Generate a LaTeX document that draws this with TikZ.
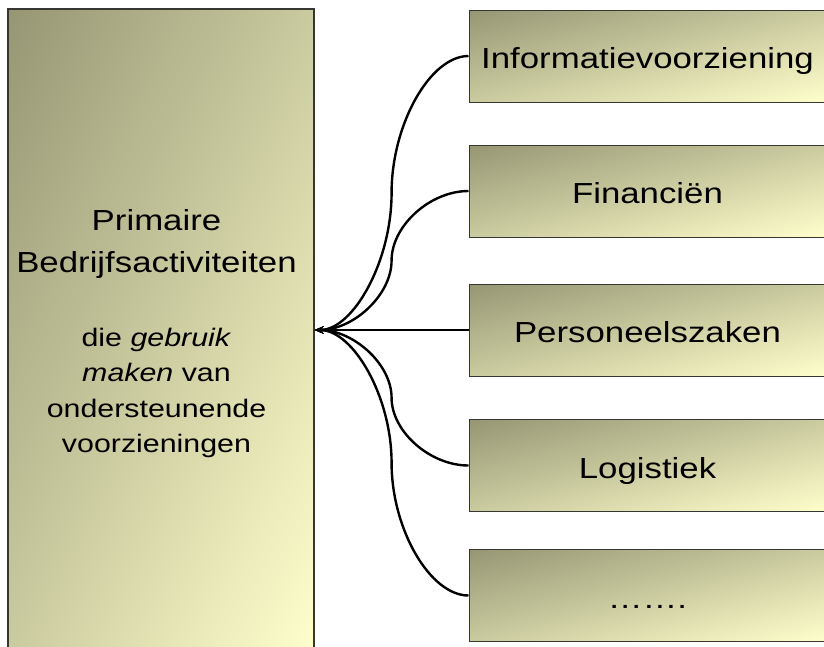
\documentclass[tikz,border=0pt]{standalone}
\usepackage{fontspec}
\setmainfont[FakeStretch=1.2]{Liberation Sans}
\usetikzlibrary{calc,arrows.meta}

\definecolor{edgegray}{RGB}{55,55,50}

% diagonal olive-to-cream gradient, corner to corner over the filled box
% (the central 50bp square is stretched onto the box)
\pgfdeclarefunctionalshading{olivecream}{\pgfpointorigin}{\pgfpoint{100bp}{100bp}}{}{
  exch 25 sub exch 75 exch sub add 100 div
  dup 0 lt {pop 0} if dup 1 gt {pop 1} if
  dup dup 105 mul 150 add 255 div 3 1 roll 105 mul 150 add 255 div exch 88 mul 116 add 255 div
}

\tikzset{
  mainbox/.style={draw=edgegray, line width=1.3pt, rectangle, inner sep=0pt,
    shading=olivecream},
  servicebox/.style={draw=edgegray, line width=1pt, rectangle, inner sep=0pt,
    minimum width=357pt, minimum height=92pt, shading=olivecream,
    text height=25pt, text depth=0pt,
    font=\fontsize{29}{35}\selectfont},
  bigline/.style={anchor=base, inner sep=0pt, font=\fontsize{29}{35}\selectfont},
  smallline/.style={anchor=base, inner sep=0pt, font=\fontsize{25.3}{30}\selectfont},
  conn/.style={draw=black, line width=2.4pt,
    -{Stealth[length=9pt,width=7.5pt]}},
  % two-piece S-curve leaving and entering horizontally, bending at mid-x
  sbend/.style={to path={
    let \p1=(\tikztostart), \p2=(\tikztotarget) in
    .. controls ({(3*\x1+\x2)/4},\y1) and ({(\x1+\x2)/2},{(3*\y1+\y2)/4})
    .. ({(\x1+\x2)/2},{(\y1+\y2)/2})
    .. controls ({(\x1+\x2)/2},{(\y1+3*\y2)/4}) and ({(\x1+3*\x2)/4},\y2)
    .. (\tikztotarget)}}
}

\begin{document}
\begin{tikzpicture}[x=1pt,y=1pt]
\path[use as bounding box, clip] (0,0) rectangle (824,-646);

% primary activities block
\node[mainbox, minimum width=306pt, minimum height=642pt] (main) at (161,-330) {};
\node[bigline] (t1) at (156.5,-230.5) {Primaire};
\node[bigline] (t2) at (156.5,-272) {Bedrijfsactiviteiten};
\node[smallline] (t3) at (156.5,-346.7) {die \textit{gebruik}};
\node[smallline] (t4) at (156.5,-381.9) {\textit{maken} van};
\node[smallline] (t5) at (156.5,-417.1) {ondersteunende};
\node[smallline] (t6) at (156.5,-452.3) {voorzieningen};

% supporting services
\node[servicebox] (b1) at (647.5,-56)    {Informatievoorziening};
\node[servicebox] (b2) at (647.5,-191)   {Financiën};
\node[servicebox] (b3) at (647.5,-330)   {Personeelszaken};
\node[servicebox] (b4) at (647.5,-465.5) {Logistiek};
\node[servicebox] (b5) at (647.5,-595.5) {…….};

% connectors into the primary block
\draw[conn] (b1.west) to[sbend] (main.east);
\draw[conn] (b2.west) to[sbend] (main.east);
\draw[conn] (b3.west) -- (main.east);
\draw[conn] (b4.west) to[sbend] (main.east);
\draw[conn] (b5.west) to[sbend] (main.east);
\end{tikzpicture}
\end{document}
